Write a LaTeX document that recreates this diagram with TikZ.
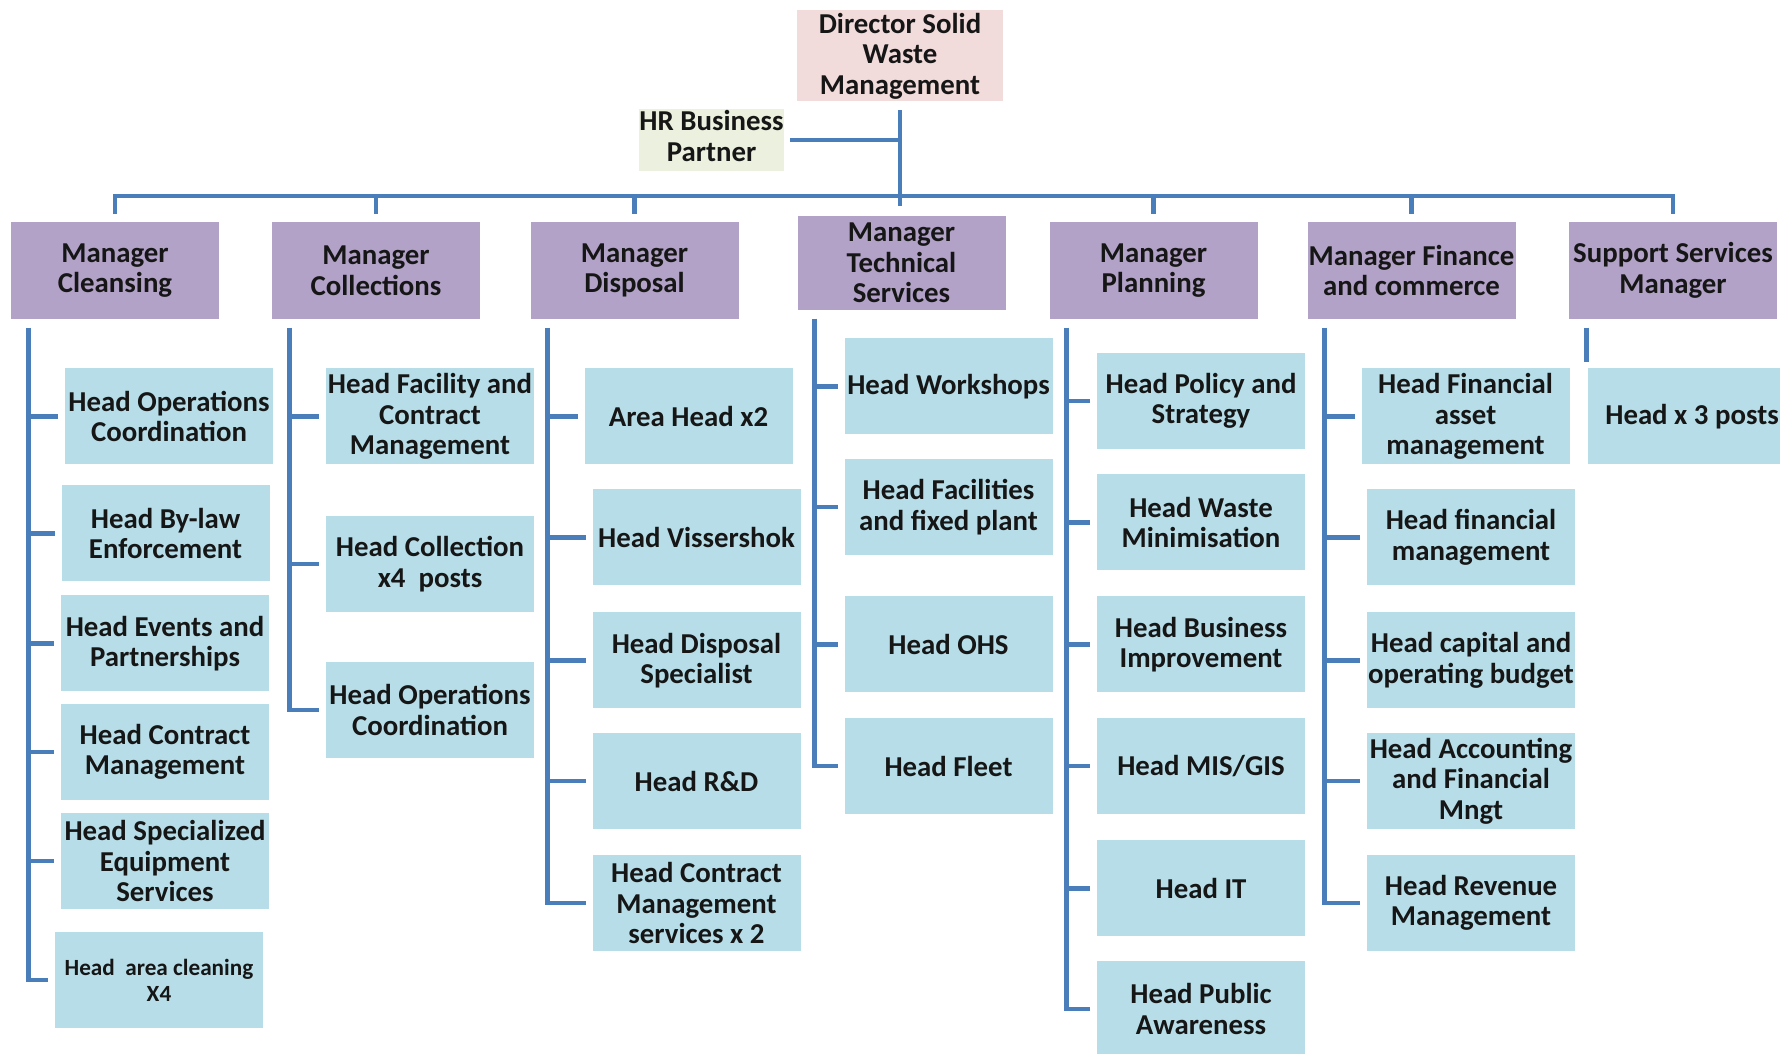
\documentclass[tikz,border=0pt]{standalone}
\usepackage{fontspec}
\setmainfont{Carlito}
\usepackage{tikz}
\usetikzlibrary{positioning,calc}
\definecolor{SWMline}{HTML}{4A7EBB}
\definecolor{SWMpurple}{HTML}{B2A2C7}
\definecolor{SWMaqua}{HTML}{B7DEE8}
\definecolor{SWMpink}{HTML}{F2DCDB}
\definecolor{SWMgreen}{HTML}{EBF1DE}
\definecolor{SWMtext}{HTML}{161616}
\tikzset{
  orgbox/.style={inner sep=0pt, align=center, text=SWMtext, font=\fontsize{8.2}{8.7}\selectfont\bfseries},
  dirbox/.style={orgbox, fill=SWMpink, minimum width=20.6mm, minimum height=9.1mm},
  hrbox/.style={orgbox, fill=SWMgreen, minimum width=14.3mm, minimum height=6.0mm},
  mgrbox/.style={orgbox, fill=SWMpurple, minimum width=20.8mm, minimum height=9.7mm},
  headbox/.style={orgbox, fill=SWMaqua, minimum width=20.8mm, minimum height=9.6mm},
  orgline/.style={draw=SWMline, line width=0.47mm},
  branch/.style={orgline, shorten >=0.6mm}
}
\begin{document}
\begin{tikzpicture}[x=0.1mm, y=-0.1mm]
  \useasboundingbox (0,0) rectangle (1780,1054);
  % director and HR
  \node[dirbox] (dir) at (900,56) {Director Solid\\Waste\\Management};
  \node[hrbox] (hr) at (711.5,140) {\raisebox{1.5pt}{\begin{tabular}{@{}c@{}}HR Business\\Partner\end{tabular}}};
  % managers
  \node[mgrbox] (mC) at (115,270.5) {Manager\\Cleansing};
  \node[mgrbox] (mL) at (376,270.5) {Manager\\Collections};
  \node[mgrbox] (mD) at (634.5,270.5) {Manager\\Disposal};
  \node[mgrbox, minimum height=9.4mm] (mT) at (901.5,263) {Manager\\Technical\\Services};
  \node[mgrbox] (mP) at (1153.5,270.5) {Manager\\Planning};
  \node[mgrbox] (mF) at (1411.5,270.5) {Manager Finance\\and commerce};
  \node[mgrbox] (mS) at (1673,270.5) {Support Services\\Manager};
  % cleansing
  \node[headbox] (hC1) at (169,416.5) {Head Operations\\Coordination};
  \node[headbox] (hC2) at (165.5,533.5) {Head By-law\\Enforcement};
  \node[headbox] (hC3) at (165,643.5) {Head Events and\\Partnerships};
  \node[headbox] (hC4) at (165,752) {Head Contract\\Management};
  \node[headbox] (hC5) at (165,861) {Head Specialized\\Equipment\\Services};
  \node[headbox, font=\fontsize{6.6}{7.4}\selectfont\bfseries] (hC6) at (159,980) {Head\ \ area cleaning\\X4};
  % collections
  \node[headbox] (hL1) at (430,416.5) {Head Facility and\\Contract\\Management};
  \node[headbox] (hL2) at (430,564) {Head Collection\\x4\ \ posts};
  \node[headbox] (hL3) at (430,710) {Head Operations\\Coordination};
  % disposal
  \node[headbox] (hD1) at (688.5,416.5) {Area Head x2};
  \node[headbox] (hD2) at (696.5,537.5) {Head Vissershok};
  \node[headbox] (hD3) at (696.5,660.5) {Head Disposal\\Specialist};
  \node[headbox] (hD4) at (696.5,781) {Head R\&D};
  \node[headbox] (hD5) at (696.5,903) {Head Contract\\Management\\services x 2};
  % technical
  \node[headbox] (hT1) at (948.5,386.5) {Head Workshops};
  \node[headbox] (hT2) at (948.5,507) {Head Facilities\\and fixed plant};
  \node[headbox] (hT3) at (948.5,644.5) {Head OHS};
  \node[headbox] (hT4) at (948.5,766) {Head Fleet};
  % planning
  \node[headbox] (hP1) at (1201,401) {Head Policy and\\Strategy};
  \node[headbox] (hP2) at (1201,522.5) {Head Waste\\Minimisation};
  \node[headbox] (hP3) at (1201,644.5) {Head Business\\Improvement};
  \node[headbox] (hP4) at (1201,766) {Head MIS/GIS};
  \node[headbox] (hP5) at (1201,888.5) {Head IT};
  \node[headbox] (hP6) at (1201,1009) {Head Public\\Awareness};
  % finance
  \node[headbox] (hF1) at (1465.5,416.5) {Head Financial\\asset\\management};
  \node[headbox] (hF2) at (1471,537.5) {Head financial\\management};
  \node[headbox] (hF3) at (1471,660.5) {Head capital and\\operating budget};
  \node[headbox] (hF4) at (1471,781) {Head Accounting\\and Financial\\Mngt};
  \node[headbox] (hF5) at (1471,903) {Head Revenue\\Management};
  % support
  \node[headbox] (hS1) at (1692,416.5) {Head x 3 posts};

  % connectors
  \coordinate (bus) at (900,196);
  \draw[orgline, shorten <=0.8mm, shorten >=0.9mm] (dir.south) -- (dir.south |- mT.north);
  \draw[orgline, shorten <=0.6mm] (hr.east) -- (hr.east -| dir.south);
  \draw[orgline, shorten <=0.7mm, shorten >=0.7mm] (mC.north) |- (bus) -| (mS.north);
  \foreach \m in {mL,mD,mP,mF}
    \draw[orgline, shorten >=0.7mm] (bus -| \m.north) -- (\m.north);
  \foreach \c in {C,L,D,T,P,F,S}
    \coordinate (t\c) at ($(m\c.south west)+(18,8)$);
  \foreach \c/\n in {C/6,L/3,D/5,T/4,P/6,F/5}
    \draw[branch] (t\c) |- (h\c\n.west);
  \foreach \c/\n in {C/5,L/2,D/4,T/3,P/5,F/4}
    \foreach \i in {1,...,\n}
      \draw[branch] (t\c |- h\c\i.west) -- (h\c\i.west);
  \draw[branch] (tS) -- (tS |- hS1.north);
\end{tikzpicture}
\end{document}
